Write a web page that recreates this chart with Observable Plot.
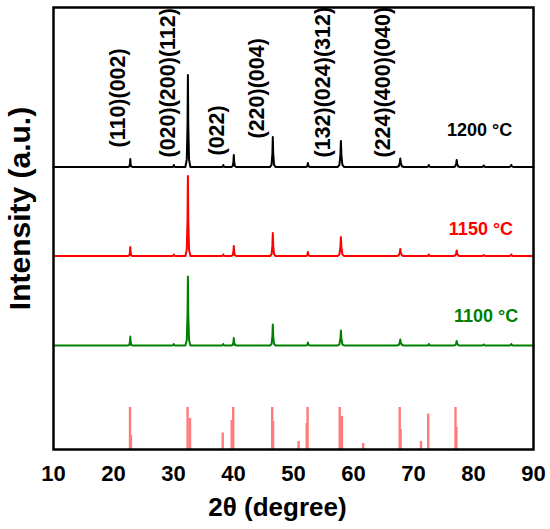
<!DOCTYPE html>
<html>
<head>
<meta charset="utf-8">
<script src="https://cdn.jsdelivr.net/npm/d3@7"></script>
<script src="https://cdn.jsdelivr.net/npm/@observablehq/plot@0.6"></script>
<style>
  html, body { margin: 0; padding: 0; background: #fff; }
  #chart svg { display: block; }
</style>
</head>
<body>
<div id="chart"></div>
<script>
// ---- data ----
const xTicks = [10, 20, 30, 40, 50, 60, 70, 80, 90];
const peakPos   = [22.8, 30.05, 32.4, 38.3, 40.05, 46.55, 52.4, 57.9, 67.8, 72.55, 77.2, 81.7, 86.3];
const peakWidth = [0.35, 0.3, 0.42, 0.3, 0.4, 0.45, 0.4, 0.55, 0.6, 0.4, 0.55, 0.5, 0.5];
const h1200 = [8, 2, 92, 2, 12, 30, 4, 26, 8.5, 2, 7, 1.5, 2];
const h1150 = [9, 1.5, 80, 1.5, 10, 23, 4, 19, 7, 1.5, 5.5, 1, 1.5];
const h1100 = [9, 1.5, 69, 1.5, 7.5, 21, 3, 15, 6, 1.5, 4.5, 1, 1.5];
const seriesNames   = ["1200 °C", "1150 °C", "1100 °C"];
const seriesOffsets = [282.5, 193.5, 104];
const seriesColors  = ["#000000", "#ff0000", "#008000"];
const seriesLabelX  = [86.45, 86.6, 87.45];
const seriesLabelY  = [319, 220.5, 133.5];

// reference pattern (pink sticks)
const refPos    = [22.75, 22.9, 32.35, 32.75, 38.2, 39.7, 39.95, 46.45, 46.6, 50.85, 52.2, 52.35, 57.7, 58.05, 61.6, 67.7, 67.85, 71.25, 72.45, 77.0, 77.15];
const refHeight = [42, 14, 42, 31, 16.5, 29, 42, 42, 28, 8, 26, 42, 42, 33, 6, 42, 20, 8, 35.5, 42, 22];

// Miller indices labels
const hklText = ["(110)(002)", "(020)(200)(112)", "(022)", "(220)(004)", "(132)(024)(312)", "(224)(400)(040)"];
const hklX = [20.8, 29.07, 37.2, 43.9, 55.0, 65.0];
const hklY = [302, 292, 294, 311, 292, 292];

// ---- build line vertices for each pattern ----
const shapeK = [-1, -0.45, -0.15, 0, 0.15, 0.45, 1];
const shapeF = [0, 0.08, 0.45, 1, 0.45, 0.08, 0];
function buildPattern(heights, offset, name) {
  const pts = [{x: 10, y: offset, s: name}];
  peakPos.forEach((p, i) => {
    shapeK.forEach((k, j) => {
      pts.push({x: p + k * peakWidth[i], y: offset + shapeF[j] * heights[i], s: name});
    });
  });
  pts.push({x: 90, y: offset, s: name});
  return pts;
}
const allHeights = [h1200, h1150, h1100];
const patterns = seriesNames.map((n, i) => buildPattern(allHeights[i], seriesOffsets[i], n));
const refData = refPos.map((p, i) => ({x: p, h: refHeight[i]}));
const hklData = hklText.map((t, i) => ({t, x: hklX[i], y: hklY[i]}));
const tempData = seriesNames.map((t, i) => ({t, x: seriesLabelX[i], y: seriesLabelY[i], c: seriesColors[i]}));

const font = "'Liberation Sans', Arial, Helvetica, sans-serif";

const chart = Plot.plot({
  width: 550,
  height: 529,
  marginLeft: 53,
  marginRight: 17,
  marginTop: 7,
  marginBottom: 80,
  style: {fontFamily: font, background: "#fff", color: "#000"},
  x: {domain: [10, 90], label: null},
  y: {domain: [0, 442], axis: null},
  marks: [
    Plot.ruleX(refData, {x: "x", y1: 0, y2: "h", stroke: "#ff7b7b", strokeWidth: 2.4}),
    ...patterns.map((pts, i) => Plot.line(pts, {x: "x", y: "y", stroke: seriesColors[i], strokeWidth: 2, strokeLinejoin: "round"})),
    Plot.text(hklData, {x: "x", y: "y", text: "t", rotate: -90, textAnchor: "start", lineAnchor: "middle", fontSize: 21.5, fontWeight: "bold", fill: "#000"}),
    Plot.text(tempData, {x: "x", y: "y", text: "t", textAnchor: "end", lineAnchor: "middle", fontSize: 18, fontWeight: "bold", fill: d => d.c}),
    Plot.frame({stroke: "#000", strokeWidth: 2.5}),
    Plot.axisX({ticks: xTicks, tickSize: 0, tickPadding: 16, fontSize: 22, fontWeight: "bold", tickFormat: d => String(d), label: null}),
    Plot.text(["2θ (degree)"], {frameAnchor: "bottom", dx: -16, dy: 58, text: d => d, fontSize: 26, fontWeight: "bold", textAnchor: "middle", lineAnchor: "middle", fill: "#000"}),
    Plot.text(["Intensity (a.u.)"], {frameAnchor: "left", dx: -33, dy: -20, text: d => d, rotate: -90, fontSize: 30, fontWeight: "bold", textAnchor: "middle", lineAnchor: "middle", fill: "#000"})
  ]
});
document.getElementById("chart").appendChild(chart);
</script>
</body>
</html>
